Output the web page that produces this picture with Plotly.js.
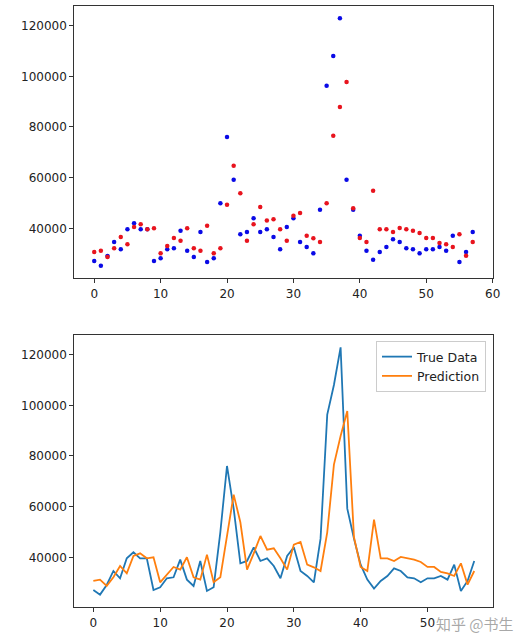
<!DOCTYPE html>
<html>
<head>
<meta charset="utf-8">
<script src="https://cdn.plot.ly/plotly-3.0.1.min.js"></script>
<style>
  html, body { margin: 0; padding: 0; background: #fff; }
  #chart { width: 517px; height: 642px; }
</style>
</head>
<body>
<div id="chart"></div>
<script>
// Sample index (0..57)
const steps = Array.from({length: 58}, (_, i) => i);

// Observed values
const trueData = [
  27100, 25260, 29080, 34600, 31710, 39600, 42000, 39600, 39600, 27100,
  28160, 31710, 32100, 39080, 31180, 28680, 38550, 26710, 28160, 49870,
  76050, 59210, 37630, 38550, 43950, 38550, 39600, 36580, 31710, 40530,
  43950, 34600, 32630, 30130, 47370, 96320, 108030, 122900, 59210, 47370,
  37100, 31180, 27630, 30660, 32630, 35660, 34600, 32100, 31710, 30130,
  31710, 31710, 32630, 31180, 37100, 26710, 30660, 38550
];

// Model output
const prediction = [
  30660, 31180, 28680, 32100, 36580, 33680, 40530, 41580, 39600, 40000,
  30130, 33030, 36180, 35130, 40000, 32100, 31180, 41050, 30130, 32100,
  49340, 64740, 53820, 35130, 41580, 48420, 43030, 43550, 39600, 35130,
  45000, 46050, 37100, 36050, 34600, 49870, 76580, 87900, 97760, 47900,
  36180, 34600, 54870, 39600, 39600, 38550, 40130, 39600, 39080, 38160,
  36180, 36180, 34210, 33680, 32630, 37630, 29210, 34600
];

const legendNames = ['True Data', 'Prediction'];
const yTicks = [40000, 60000, 80000, 100000, 120000];
const xTicks = [0, 10, 20, 30, 40, 50, 60];

const W = 517, H = 642;
const FONT = 'DejaVu Sans, sans-serif';
const AX = '#333333';

const traces = [
  { x: steps, y: trueData, type: 'scatter', mode: 'markers',
    marker: { color: '#0a0ae6', size: 4.5 }, xaxis: 'x', yaxis: 'y', showlegend: false },
  { x: steps, y: prediction, type: 'scatter', mode: 'markers',
    marker: { color: '#e8141e', size: 4.5 }, xaxis: 'x', yaxis: 'y', showlegend: false },
  { x: steps, y: trueData, type: 'scatter', mode: 'lines', name: legendNames[0],
    line: { color: '#1f77b4', width: 1.8 }, xaxis: 'x2', yaxis: 'y2' },
  { x: steps, y: prediction, type: 'scatter', mode: 'lines', name: legendNames[1],
    line: { color: '#ff7f0e', width: 1.8 }, xaxis: 'x2', yaxis: 'y2' }
];

function xAxis(range, anchor) {
  return {
    domain: [74.3 / W, 493.3 / W], range: range, anchor: anchor,
    tickvals: xTicks, ticktext: xTicks.map(String),
    showgrid: false, zeroline: false,
    showline: true, mirror: true, linecolor: AX, linewidth: 1,
    ticks: 'outside', ticklen: 4, tickcolor: AX, tickwidth: 1,
    tickfont: { family: FONT, size: 12, color: '#222' }
  };
}
function yAxis(top, bottom, anchor) {
  return {
    domain: [1 - bottom / H, 1 - top / H], range: [20260, 127760], anchor: anchor,
    tickvals: yTicks, ticktext: yTicks.map(String),
    showgrid: false, zeroline: false,
    showline: true, mirror: true, linecolor: AX, linewidth: 1,
    ticks: 'outside', ticklen: 4, tickcolor: AX, tickwidth: 1,
    tickfont: { family: FONT, size: 12, color: '#222' }
  };
}

const layout = {
  width: W, height: H,
  margin: { l: 0, r: 0, t: 0, b: 0 },
  paper_bgcolor: '#ffffff', plot_bgcolor: '#ffffff',
  font: { family: FONT, size: 12, color: '#222' },
  xaxis: xAxis([-3.0, 60.1], 'y'),
  yaxis: yAxis(6, 278.3, 'x'),
  xaxis2: xAxis([-2.85, 59.85], 'y2'),
  yaxis2: yAxis(335, 607.3, 'x2'),
  showlegend: true,
  legend: {
    x: 486 / W, y: 1 - 341 / H, xanchor: 'right', yanchor: 'top',
    bgcolor: 'rgba(255,255,255,0.85)', bordercolor: '#cccccc', borderwidth: 1,
    font: { family: FONT, size: 12.5, color: '#222' },
    tracegroupgap: 0
  },
  annotations: [{
    // site watermark in the lower-right corner
    text: '知乎 @书生', xref: 'paper', yref: 'paper',
    x: 475 / W, y: 1 - 623 / H, xanchor: 'center', yanchor: 'middle',
    showarrow: false,
    font: { family: 'Noto Sans CJK SC, sans-serif', size: 15, color: 'rgba(140,140,140,0.75)' }
  }]
};

Plotly.newPlot('chart', traces, layout, { staticPlot: true, displayModeBar: false });
</script>
</body>
</html>
